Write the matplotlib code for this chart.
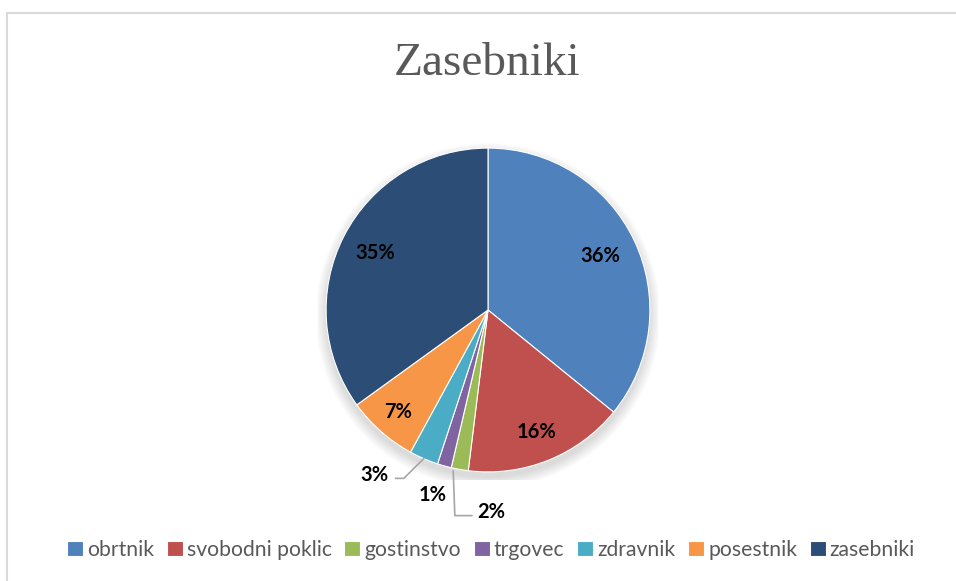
import numpy as np
import matplotlib.pyplot as plt
from matplotlib.patches import Rectangle, Circle

# podatki
kategorije = ['obrtnik', 'svobodni poklic', 'gostinstvo', 'trgovec',
              'zdravnik', 'posestnik', 'zasebniki']
deleži = [35.9, 16.1, 1.7, 1.4, 2.9, 7.1, 35.0]
barve = ['#4F81BD', '#C0504D', '#9BBB59', '#8064A2', '#4BACC6', '#F79646', '#2C4D75']

# položaji oznak - notranje / zunanje
notranje = [True, True, False, False, False, True, True]
zunanje_poz = {2: (0.02, -1.25), 3: (-0.34, -1.14), 4: (-0.70, -1.02)}

fig = plt.figure(figsize=(9.56, 5.81), dpi=100)
# okvir grafikona (desni in spodnji rob sta izven slike)
fig.patches.append(Rectangle((7 / 956, -0.05), 1.1, 1.05 - 13 / 581,
                             transform=fig.transFigure, fill=False,
                             edgecolor='#D9D9D9', linewidth=1.5))

ax = fig.add_axes([(488 - 170) / 956, (581 - 310 - 170) / 581, 340 / 956, 340 / 581])
ax.set_aspect('equal')

# rahla senca pod tortnim grafom
for i in range(12):
    ax.add_patch(Circle((0, -0.035), 1.0 + 0.006 * i, color='black',
                        alpha=0.012, zorder=0, linewidth=0))

klini, _ = ax.pie(deleži, colors=barve, startangle=90, counterclock=False,
                  radius=1.0, wedgeprops=dict(edgecolor='white', linewidth=0.8))
ax.set_xlim(-1.05, 1.05)
ax.set_ylim(-1.05, 1.05)

skupaj = sum(deleži)
polmeri = [0.77, 0.81, 0, 0, 0, 0.84, 0.78]
for i, k in enumerate(klini):
    kot = np.deg2rad((k.theta1 + k.theta2) / 2)
    besedilo = f'{round(deleži[i] / skupaj * 100):.0f}%'
    if notranje[i]:
        r = polmeri[i]
        ax.text(r * np.cos(kot), r * np.sin(kot), besedilo, ha='center', va='center',
                fontsize=14.5, fontweight='bold', color='black', family='Lato')
    else:
        x0, y0 = np.cos(kot), np.sin(kot)
        tx, ty = zunanje_poz[i]
        ax.text(tx, ty, besedilo, ha='center', va='center',
                fontsize=14.5, fontweight='bold', color='black', family='Lato')
        if i == 2:
            ax.plot([x0 - 0.04, x0 - 0.03, tx - 0.12], [y0 - 0.01, ty - 0.02, ty - 0.02],
                    color='#A6A6A6', lw=1.2, clip_on=False)
        elif i == 4:
            ax.plot([x0, tx + 0.18, tx + 0.13], [y0, ty - 0.02, ty - 0.02],
                    color='#A6A6A6', lw=1.2, clip_on=False)

fig.text(487 / 956, 1 - 64 / 581, 'Zasebniki', ha='center', va='center',
         fontsize=34, color='#595959', family='Liberation Serif')

leg = fig.legend(klini, kategorije, loc='center', bbox_to_anchor=(491 / 956, 1 - 550 / 581),
                 ncol=7, frameon=False, handlelength=0.75, handleheight=0.75,
                 handletextpad=0.2, columnspacing=0.6,
                 prop={'family': 'Lato', 'size': 15.2})
for t in leg.get_texts():
    t.set_color('#595959')

fig.savefig('out.png', dpi=100, facecolor='white')
